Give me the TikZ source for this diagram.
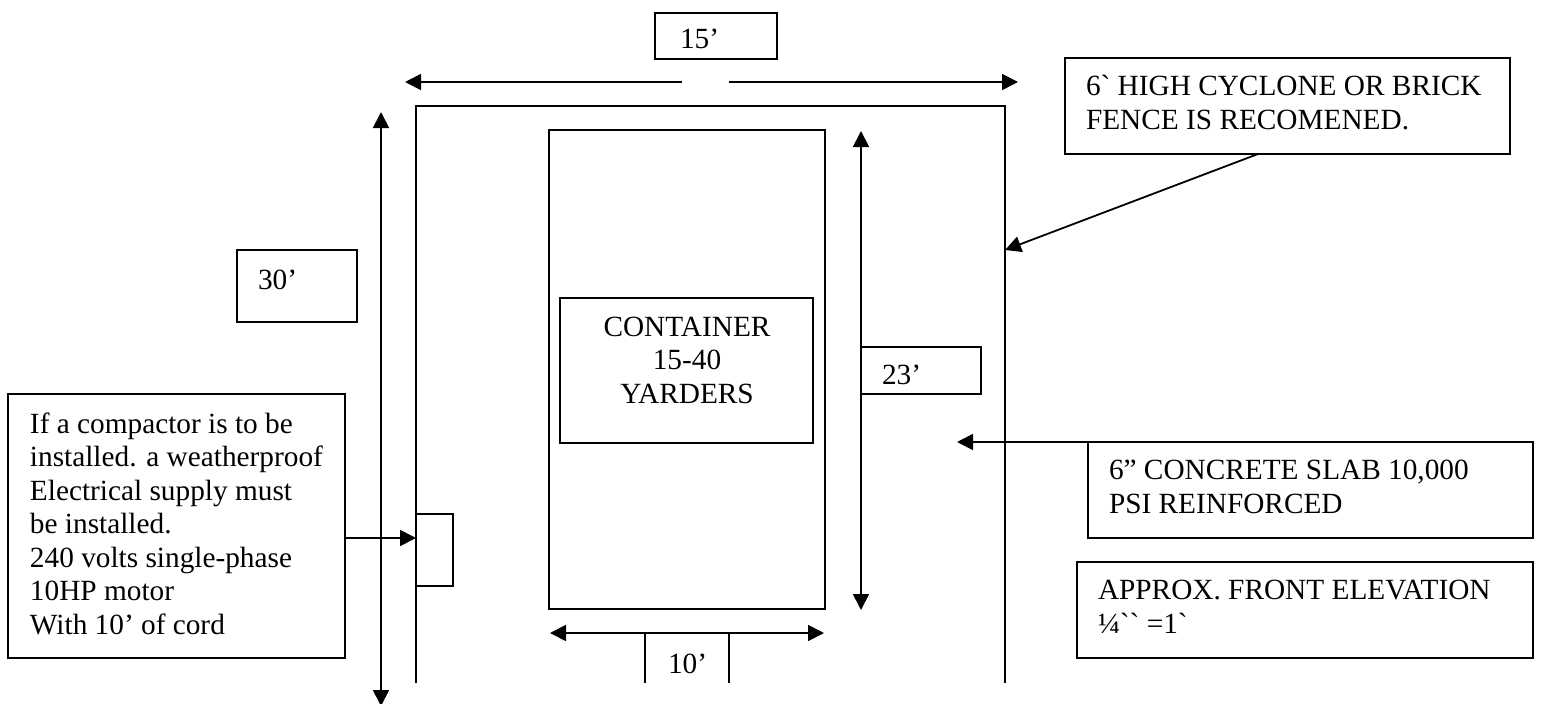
\documentclass[tikz,border=0pt]{standalone}
\usepackage{fontspec}
\setmainfont{Liberation Serif}[Ligatures=TeXOff]
\usetikzlibrary{arrows.meta}
\tikzset{
  x=1pt,y=-1pt,
  linest/.style={line width=1.8pt,black,line cap=butt},
  arr/.style={linest,-{Triangle[length=16pt,width=16pt]}},
  dbl/.style={linest,{Triangle[length=16pt,width=16pt]}-{Triangle[length=16pt,width=16pt]}},
  boxst/.style={draw=black,line width=1.8pt,fill=white,rectangle,inner sep=0pt,minimum width=#1},
  lab/.style={inner sep=0pt,outer sep=0pt,font=\fontsize{29.3}{33.5}\selectfont,align=left,anchor=base west},
  labc/.style={inner sep=0pt,outer sep=0pt,font=\fontsize{29.3}{33.5}\selectfont,anchor=base},
}
\begin{document}
\begin{tikzpicture}
\useasboundingbox (0,0) rectangle (1543,704);
% fence
\coordinate (fbl) at (416,683);
\coordinate (ftl) at (416,106);
\coordinate (ftr) at (1005,106);
\coordinate (fbr) at (1005,683);
\draw[linest] (fbl) -- (ftl) -- (ftr) -- (fbr);
% container
\node[boxst=276pt,minimum height=479pt,fill=none] (cont) at (687,369.5) {};
\node[boxst=253pt,minimum height=145pt] (inner) at (686.5,370.5) {};
\node[labc] (c1) at (687,336) {CONTAINER};
\node[labc] (c2) at (687,369.5) {15-40};
\node[labc] (c3) at (687,403.5) {YARDERS};
% top dim
\node[boxst=122pt,minimum height=46pt] (b15) at (716,36) {};
\node[lab] (t15) at (680,48) {15’};
\coordinate (tl0) at (682,82);\coordinate (tl1) at (405,82);
\coordinate (tr0) at (729,82);\coordinate (tr1) at (1018,82);
\draw[arr] (tl0) -- (tl1);
\draw[arr] (tr0) -- (tr1);
% left dim
\coordinate (l0) at (381,112);\coordinate (l1) at (381,706);
\draw[dbl] (l0) -- (l1);
\node[boxst=120pt,minimum height=72pt] (b30) at (297,286) {};
\node[lab] (t30) at (258,289) {30’};
% 23
\node[boxst=120pt,minimum height=47pt] (b23) at (921,370.5) {};
\node[lab] (t23) at (882,384) {23’};
\coordinate (v0) at (861,131);\coordinate (v1) at (861,610);
\draw[dbl] (v0) -- (v1);
% 10
\coordinate (h0) at (550,633);\coordinate (h1) at (824,633);
\draw[dbl] (h0) -- (h1);
\coordinate (ta) at (645,633);\coordinate (tb) at (729,633);
\coordinate (ba) at (645,683);\coordinate (bb) at (729,683);
\draw[linest] (ta) -- (ba) (tb) -- (bb);
\node[lab] (t10) at (668,673) {10’};
% fence note
\node[boxst=445pt,minimum height=96pt] (nfence) at (1287.5,106) {};
\node[lab] (tfence) at (1086,129) {6` HIGH CYCLONE OR BRICK\\FENCE IS RECOMENED.};
\coordinate (nf0) at (1258,154);\coordinate (nf1) at (1005,250);
\draw[arr] (nf0) -- (nf1);
% slab note
\node[boxst=445pt,minimum height=96pt] (nslab) at (1310.5,490) {};
\node[lab] (tslab) at (1109,513) {6” CONCRETE SLAB 10,000\\PSI REINFORCED};
\coordinate (ns0) at (1125,442);\coordinate (ns1) at (957,442);
\draw[arr] (ns0) -- (ns1);
% approx note
\node[boxst=456pt,minimum height=96pt] (nappr) at (1305,610) {};
\node[lab] (tappr) at (1098,633) {APPROX. FRONT ELEVATION\\¼`` =1`};
% compactor
\node[boxst=337pt,minimum height=264pt] (ncomp) at (176.5,526) {};
\node[lab] (tcomp) at (30,634) {If a compactor is to be\\installed. a weatherproof\\Electrical supply must\\be installed.\\240 volts single-phase\\10HP motor\\With 10’ of cord};
\coordinate (sbt) at (416,514);\coordinate (stt) at (453,514);
\coordinate (sbb) at (453,586);\coordinate (sbe) at (416,586);
\draw[linest] (sbt) -- (stt) -- (sbb) -- (sbe);
\coordinate (carr) at (416,538);
\draw[arr] (ncomp.east |- carr) -- (carr);
\end{tikzpicture}
\end{document}
